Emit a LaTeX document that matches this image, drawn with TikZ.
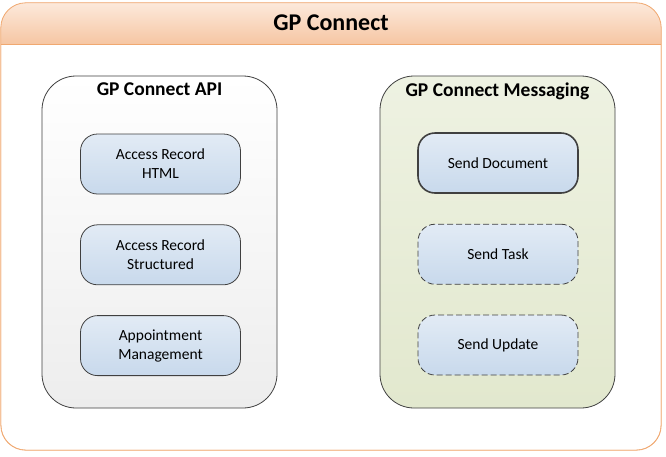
\documentclass[tikz,border=0pt]{standalone}
\usepackage{fontspec}
\setmainfont{Carlito}
\usepackage{xcolor}
\usetikzlibrary{positioning,backgrounds}

\definecolor{hdrTop}{HTML}{FCE9DB}
\definecolor{hdrBot}{HTML}{F6C6A3}
\definecolor{hdrLine}{HTML}{F0A870}
\definecolor{apiBot}{HTML}{EDEDED}
\definecolor{msgTop}{HTML}{EEF2E2}
\definecolor{msgBot}{HTML}{E2E8CE}
\definecolor{fnTop}{HTML}{E2EBF5}
\definecolor{fnBot}{HTML}{C8D9EC}
\definecolor{edge}{HTML}{404040}

\begin{document}
\begin{tikzpicture}[x=1pt,y=-1pt,
        panel/.style = {draw=edge,line width=0.8pt,rounded corners=34pt,minimum width=235pt,minimum height=332pt},
        func/.style = {draw=edge,line width=0.8pt,rounded corners=17pt,minimum width=160pt,minimum height=60pt,
                       top color=fnTop,bottom color=fnBot,align=center,
                       font=\fontsize{15.5}{19}\selectfont},
        planned/.style = {func,dash pattern=on 6pt off 3pt},
        ptitle/.style = {font=\fontsize{19.5}{23}\selectfont\bfseries}
        ]
        \useasboundingbox (0,0) rectangle (666,456);

        %Rahmen
        \node[draw=hdrLine,rounded corners=25pt,minimum width=660pt,minimum height=447pt,fill=white]
            (gp) at (331,226.5) {};
        \begin{scope}
            \clip[rounded corners=25pt] (gp.south west) rectangle (gp.north east);
            \shade[top color=hdrTop,bottom color=hdrBot] (gp.north west) rectangle (661,44);
        \end{scope}
        \draw[hdrLine,line width=0.8pt,rounded corners=25pt] (gp.south west) rectangle (gp.north east);
        \draw[hdrLine,line width=0.8pt] (gp.west |- 0,44) -- (gp.east |- 0,44);
        \node[font=\fontsize{24}{28}\selectfont\bfseries] (gpT) at (331,23) {GP Connect};

        %API
        \node[panel,top color=white,bottom color=apiBot] (api) at (159.5,242) {};
        \node[ptitle,below=4pt of api.north] (apiT) {GP Connect API};
        \node[func] (html) at (160.5,164) {Access Record\\HTML};
        \node[func,below=30pt of html] (struc) {Access Record\\Structured};
        \node[func,below=30pt of struc] (appt) {Appointment\\Management};

        %Messaging
        \node[panel,top color=msgTop,bottom color=msgBot] (msg) at (497.5,242) {};
        \node[ptitle,below=4pt of msg.north] (msgT) {GP Connect Messaging};
        \node[func,line width=1.6pt] (doc) at (498,163) {Send Document};
        \node[planned,below=30pt of doc] (task) {Send Task};
        \node[planned,below=30pt of task] (upd) {Send Update};

    \end{tikzpicture}
\end{document}
